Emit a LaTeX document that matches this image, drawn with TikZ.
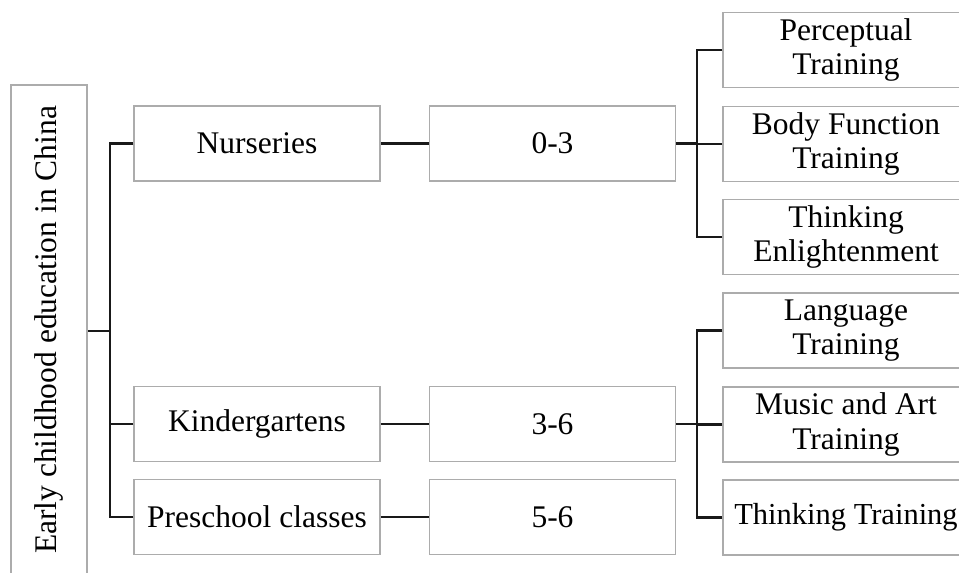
\documentclass[tikz,border=0pt]{standalone}
\usepackage{fontspec}
\setmainfont{Liberation Serif}
\begin{document}
\begin{tikzpicture}[x=1pt,y=-1pt,
  box/.style={draw=gray!65, line width=1.5pt, fill=white, minimum width=246pt, minimum height=75pt, inner sep=0pt, align=center, font=\fontsize{31.5}{34.5}\selectfont},
  conn/.style={draw=black!90, line width=2.4pt}]
\useasboundingbox (0,0) rectangle (959,573);
% root
\node[draw=gray!65, line width=1.5pt, minimum width=76pt, minimum height=500pt, inner sep=0pt] (root) at (49,335) {};
\node[rotate=90, font=\fontsize{31.5}{34}\selectfont, inner sep=0pt] (rootlabel) at (49,330) {Early childhood education in China};
% level 1
\node[box] (nurs) at (257,143.5) {Nurseries};
\node[box] (kind) at (257,424) {Kindergartens};
\node[box] (pre) at (257,517) {Preschool classes};
% level 2
\node[box] (a03) at (552.5,143.5) {0-3};
\node[box] (a36) at (552.5,424) {3-6};
\node[box] (a56) at (552.5,517) {5-6};
% level 3
\node[box] (p1) at (846,50) {Perceptual\\Training};
\node[box] (p2) at (846,144) {Body Function\\Training};
\node[box] (p3) at (846,237) {Thinking\\Enlightenment};
\node[box] (k1) at (846,330.5) {Language\\Training};
\node[box] (k2) at (846,424.5) {Music and Art\\Training};
\node[box, font=\fontsize{30.5}{34}\selectfont] (k3) at (846,517.5) {Thinking Training};
% connectors
\coordinate (b1) at (110,331);
\draw[conn] (root.east |- b1) -- (b1);
\draw[conn] (nurs.west) -| (b1);
\draw[conn] (kind.west) -| (b1);
\draw[conn] (pre.west) -| (b1);
\draw[conn] (nurs.east) -- (a03.west);
\draw[conn] (kind.east) -- (a36.west);
\draw[conn] (pre.east) -- (a56.west);
\coordinate (c1) at (697,143.5);
\coordinate (c2) at (697,424);
\draw[conn] (a03.east) -- (c1);
\draw[conn] (p1.west) -| (c1);
\draw[conn] (p2.west) -- (c1 |- p2.west);
\draw[conn] (p3.west) -| (c1);
\draw[conn] (a36.east) -- (c2);
\draw[conn] (k1.west) -| (c2);
\draw[conn] (k2.west) -- (c2 |- k2.west);
\draw[conn] (k3.west) -| (c2);
\end{tikzpicture}
\end{document}
